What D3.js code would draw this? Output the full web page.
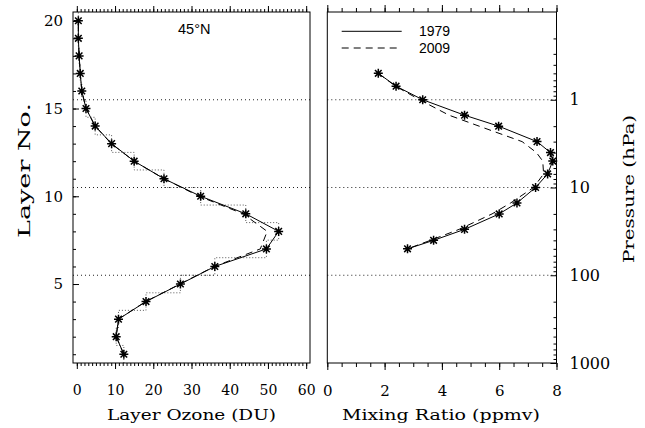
<!DOCTYPE html>
<html>
<head>
<meta charset="utf-8">
<script src="https://cdn.jsdelivr.net/npm/d3@7"></script>
<style>
  body { margin: 0; background: #fff; }
  text { fill: #000; }
</style>
</head>
<body>
<svg id="chart" width="645" height="428"></svg>
<script>
// Umkehr layers 1..20 and layer ozone amounts (DU)
const layerNo = [1, 2, 3, 4, 5, 6, 7, 8, 9, 10, 11, 12, 13, 14, 15, 16, 17, 18, 19, 20];
const ozone1979 = [12.3, 10.3, 10.9, 18.1, 27.1, 36.1, 49.6, 52.8, 44.2, 32.4, 22.8, 15.0, 9.1, 4.8, 2.4, 1.3, 0.9, 0.6, 0.4, 0.4];
const ozone2009 = [12.3, 10.3, 10.9, 18.0, 27.0, 36.0, 48.0, 49.8, 43.5, 32.0, 22.8, 15.0, 9.0, 4.8, 2.4, 1.3, 0.9, 0.6, 0.4, 0.4];

// Pressure levels (hPa) and ozone mixing ratio (ppmv)
const pressure = [0.5, 0.7, 1, 1.5, 2, 3, 4, 5, 7, 10, 15, 20, 30, 40, 50];
const mix1979 = [1.78, 2.40, 3.33, 4.79, 5.98, 7.32, 7.79, 7.87, 7.69, 7.27, 6.62, 6.00, 4.79, 3.71, 2.80];
const mix2009 = [1.78, 2.38, 3.22, 4.25, 5.30, 6.80, 7.30, 7.52, 7.55, 7.20, 6.40, 5.75, 4.60, 3.60, 2.80];

// Tick labels
const ozoneTicks = [0, 10, 20, 30, 40, 50, 60];
const layerTicks = [5, 10, 15, 20];
const mixTicks = [0, 2, 4, 6, 8];
const pressTicks = [1, 10, 100, 1000];
const boundaryLayers = [5.5, 10.5, 15.5];
const boundaryPress = [100, 10, 1];

const seriesNames = ["1979", "2009"];

const svg = d3.select("#chart");
const plotTop = 12, plotBottom = 363;
const L = { x0: 73, x1: 310 };
const R = { x0: 327.3, x1: 556.5 };

const yLayer = d3.scaleLinear().domain([0.5, 20.5]).range([plotBottom, plotTop]);
const yPress = d3.scaleLog().domain([1000, 0.1]).range([plotBottom, plotTop]);
const xOz = d3.scaleLinear().domain([-1, 61]).range([L.x0, L.x1]);
const xMix = d3.scaleLinear().domain([0, 8]).range([R.x0, R.x1]);

const serif = "'DejaVu Serif', serif";
const sans = "'Liberation Sans', Arial, sans-serif";

function styleAxis(g, size) {
  g.select(".domain").remove();
  g.selectAll("line").attr("stroke", "#000").attr("stroke-width", 1);
  g.selectAll("text").attr("font-family", serif).attr("font-size", size).attr("fill", "#111");
}

// wide serif axis titles
function axisTitle(sel, label, len, size) {
  return sel.append("text").text(label)
    .attr("textLength", len).attr("lengthAdjust", "spacingAndGlyphs")
    .attr("font-family", serif).attr("font-size", size).attr("fill", "#2a2a2a");
}

// ---------- Left panel: layer ozone ----------
const left = svg.append("g");

// dotted layer boundaries
left.selectAll("line.bound").data(boundaryLayers).join("line")
  .attr("x1", L.x0).attr("x2", L.x1)
  .attr("y1", d => yLayer(d)).attr("y2", d => yLayer(d))
  .attr("stroke", "#222").attr("stroke-width", 1).attr("stroke-dasharray", "1,3");

// step outline of layer amounts
const stepPts = [];
layerNo.forEach((n, i) => {
  stepPts.push([ozone1979[i], n - 0.5]);
  stepPts.push([ozone1979[i], n + 0.5]);
});
left.append("path")
  .attr("d", d3.line().x(d => xOz(d[0])).y(d => yLayer(d[1]))(stepPts))
  .attr("fill", "none").attr("stroke", "#444").attr("stroke-width", 0.9)
  .attr("stroke-dasharray", "1,2");

const lineOz = d3.line().x(d => xOz(d[1])).y(d => yLayer(d[0]));
left.append("path")
  .attr("d", lineOz(layerNo.map((n, i) => [n, ozone2009[i]])))
  .attr("fill", "none").attr("stroke", "#000").attr("stroke-width", 1)
  .attr("stroke-dasharray", "7,5");
left.append("path")
  .attr("d", lineOz(layerNo.map((n, i) => [n, ozone1979[i]])))
  .attr("fill", "none").attr("stroke", "#000").attr("stroke-width", 1);

const starPath = "M-4.5,0H4.5M0,-4.5V4.5M-3.3,-3.3L3.3,3.3M-3.3,3.3L3.3,-3.3";
left.selectAll("path.star").data(layerNo).join("path")
  .attr("class", "star")
  .attr("transform", (n, i) => `translate(${xOz(ozone1979[i])},${yLayer(n)})`)
  .attr("d", starPath).attr("stroke", "#000").attr("stroke-width", 1.5).attr("fill", "none");

// frame
left.append("rect").attr("x", L.x0).attr("y", plotTop).attr("width", L.x1 - L.x0).attr("height", plotBottom - plotTop)
  .attr("fill", "none").attr("stroke", "#000").attr("stroke-width", 1);

// x ticks, bottom and top (outward)
left.append("g").attr("transform", `translate(0,${plotBottom})`)
  .call(d3.axisBottom(xOz).tickValues(d3.range(0, 61, 1)).tickSize(3).tickFormat(""))
  .call(g => styleAxis(g, 14));
left.append("g").attr("transform", `translate(0,${plotBottom})`)
  .call(d3.axisBottom(xOz).tickValues(ozoneTicks).tickSize(6).tickPadding(16))
  .call(g => styleAxis(g, 14));
left.append("g").attr("transform", `translate(0,${plotTop})`)
  .call(d3.axisTop(xOz).tickValues(d3.range(0, 61, 1)).tickSize(3).tickFormat(""))
  .call(g => styleAxis(g, 14));
left.append("g").attr("transform", `translate(0,${plotTop})`)
  .call(d3.axisTop(xOz).tickValues(ozoneTicks).tickSize(6).tickFormat(""))
  .call(g => styleAxis(g, 14));

// y ticks (inward) with labels outside
left.append("g").attr("transform", `translate(${L.x0},0)`)
  .call(d3.axisLeft(yLayer).tickValues(layerNo).tickSize(-3).tickFormat(""))
  .call(g => styleAxis(g, 14));
left.append("g").attr("transform", `translate(${L.x0},0)`)
  .call(d3.axisLeft(yLayer).tickValues(layerTicks).tickSize(-6).tickPadding(10))
  .call(g => styleAxis(g, 15));

left.append("text").text("45°N")
  .attr("x", 178).attr("y", 34.3)
  .attr("font-family", sans).attr("font-size", 14.5);

axisTitle(left, "Layer Ozone (DU)", 169, 15).attr("x", 107).attr("y", 420);
axisTitle(svg, "Layer No.", 135, 17).attr("transform", "translate(30,238) rotate(-90)");

// ---------- Right panel: mixing ratio ----------
const right = svg.append("g");

right.selectAll("line.bound").data(boundaryPress).join("line")
  .attr("x1", R.x0).attr("x2", R.x1)
  .attr("y1", d => yPress(d)).attr("y2", d => yPress(d))
  .attr("stroke", "#222").attr("stroke-width", 1).attr("stroke-dasharray", "1,3");

const lineMix = d3.line().x(d => xMix(d[1])).y(d => yPress(d[0]));
right.append("path")
  .attr("d", lineMix(pressure.map((p, i) => [p, mix2009[i]])))
  .attr("fill", "none").attr("stroke", "#000").attr("stroke-width", 1)
  .attr("stroke-dasharray", "7,5");
right.append("path")
  .attr("d", lineMix(pressure.map((p, i) => [p, mix1979[i]])))
  .attr("fill", "none").attr("stroke", "#000").attr("stroke-width", 1);
right.selectAll("path.star").data(pressure).join("path")
  .attr("class", "star")
  .attr("transform", (p, i) => `translate(${xMix(mix1979[i])},${yPress(p)})`)
  .attr("d", starPath).attr("stroke", "#000").attr("stroke-width", 1.5).attr("fill", "none");

right.append("rect").attr("x", R.x0).attr("y", plotTop).attr("width", R.x1 - R.x0).attr("height", plotBottom - plotTop)
  .attr("fill", "none").attr("stroke", "#000").attr("stroke-width", 1);

right.append("g").attr("transform", `translate(0,${plotBottom})`)
  .call(d3.axisBottom(xMix).tickValues(d3.range(0, 8.01, 0.5)).tickSize(4).tickFormat(""))
  .call(g => styleAxis(g, 15));
right.append("g").attr("transform", `translate(0,${plotBottom})`)
  .call(d3.axisBottom(xMix).tickValues(mixTicks).tickSize(7).tickPadding(15))
  .call(g => styleAxis(g, 15));
right.append("g").attr("transform", `translate(0,${plotTop})`)
  .call(d3.axisTop(xMix).tickValues(d3.range(0, 8.01, 0.5)).tickSize(4).tickFormat(""))
  .call(g => styleAxis(g, 15));
right.append("g").attr("transform", `translate(0,${plotTop})`)
  .call(d3.axisTop(xMix).tickValues(mixTicks).tickSize(7).tickFormat(""))
  .call(g => styleAxis(g, 15));

// log pressure ticks on the right (inward)
const minorPress = [];
[0.1, 1, 10, 100].forEach(dec => d3.range(2, 10).forEach(k => minorPress.push(dec * k)));
right.append("g").attr("transform", `translate(${R.x1},0)`)
  .call(d3.axisRight(yPress).tickValues(minorPress).tickSize(-3).tickFormat(""))
  .call(g => styleAxis(g, 16));
right.append("g").attr("transform", `translate(${R.x1},0)`)
  .call(d3.axisRight(yPress).tickValues(pressTicks).tickSize(-6).tickPadding(13).tickFormat(d3.format("d")))
  .call(g => styleAxis(g, 16));

axisTitle(right, "Mixing Ratio (ppmv)", 198, 15).attr("x", 342).attr("y", 420);
axisTitle(svg, "Pressure (hPa)", 148, 15).attr("transform", "translate(634,263) rotate(-90)");

// legend
const legend = right.append("g");
seriesNames.forEach((name, i) => {
  const y = 31.3 + i * 16.7;
  legend.append("line").attr("x1", 341.7).attr("x2", 401.7).attr("y1", y).attr("y2", y)
    .attr("stroke", "#000").attr("stroke-width", 1)
    .attr("stroke-dasharray", i === 0 ? null : "7,5");
  legend.append("text").text(name).attr("x", 419).attr("y", y + 5)
    .attr("font-family", sans).attr("font-size", 14);
});
</script>
</body>
</html>
